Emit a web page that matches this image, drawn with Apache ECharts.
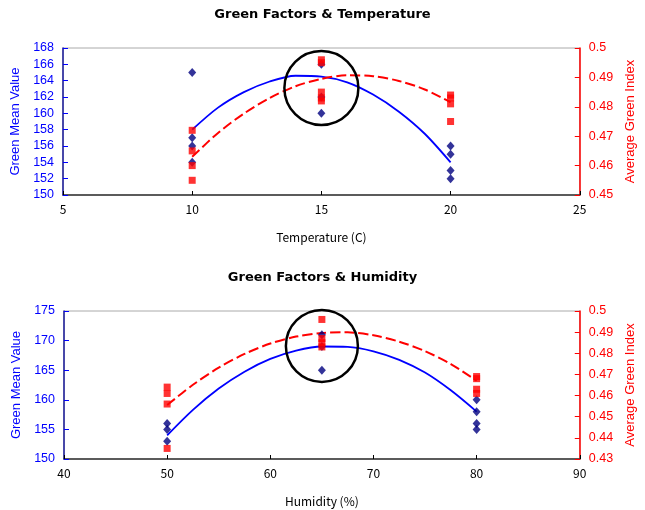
<!DOCTYPE html>
<html><head><meta charset="utf-8">
<script src="https://cdn.jsdelivr.net/npm/echarts@6/dist/echarts.min.js"></script>
<style>html,body{margin:0;padding:0;background:#fff}#c{width:645px;height:510px}</style>
</head><body><div id="c"></div>
<script>
// ---- Temperature chart data ----
const tempMeanX = [10, 10, 10, 10, 15, 15, 15, 20, 20, 20, 20];
const tempMeanY = [165, 157, 156, 154, 166, 162, 160, 156, 155, 153, 152];
const tempIndexX = [10, 10, 10, 10, 15, 15, 15, 15, 15, 20, 20, 20, 20];
const tempIndexY = [0.472, 0.465, 0.460, 0.455, 0.496, 0.495, 0.485, 0.483, 0.482, 0.484, 0.483, 0.481, 0.475];
const tempTrendX = [10, 11, 12, 13, 14, 15, 16, 17, 18, 19, 20];
const tempMeanTrend = [158, 160.7, 162.6, 163.9, 164.6, 164.5, 163.8, 162.3, 160.2, 157.5, 154];
const tempIndexTrend = [0.463, 0.4711, 0.4777, 0.4830, 0.4870, 0.4895, 0.4907, 0.4904, 0.4888, 0.4859, 0.4815];
// ---- Humidity chart data ----
const humMeanX = [50, 50, 50, 65, 65, 65, 80, 80, 80, 80];
const humMeanY = [156, 155, 153, 171, 169, 165, 160, 158, 156, 155];
const humIndexX = [50, 50, 50, 50, 65, 65, 65, 65, 80, 80, 80, 80];
const humIndexY = [0.464, 0.461, 0.456, 0.435, 0.496, 0.487, 0.485, 0.483, 0.469, 0.468, 0.463, 0.461];
const humTrendX = [50, 52.5, 55, 57.5, 60, 62.5, 65, 67.5, 70, 72.5, 75, 77.5, 80];
const humMeanTrend = [154, 158.3, 161.9, 164.75, 166.9, 168.3, 169, 168.95, 168.2, 166.75, 164.6, 161.6, 158];
const humIndexTrend = [0.4555, 0.4651, 0.4732, 0.4797, 0.4846, 0.4879, 0.4896, 0.4899, 0.4885, 0.4855, 0.4810, 0.4749, 0.467];
// ---- axis ticks ----
const tempTicks = {min: 5, max: 25, interval: 5};
const humTicks = {min: 40, max: 90, interval: 10};
const tempMeanTicks = {min: 150, max: 168, interval: 2};
const tempIndexTicks = {min: 0.45, max: 0.5, interval: 0.01};
const humMeanTicks = {min: 150, max: 175, interval: 5};
const humIndexTicks = {min: 0.43, max: 0.5, interval: 0.01};

const zip = (xs, ys) => xs.map((x, i) => [x, ys[i]]);
const BLUE = '#0000ff', NAVY = '#000080', RED = '#ff0000';
const numFont = 'Liberation Sans';
const jpFont = 'Noto Sans CJK JP';

function xAx(t, name, gi) {
  return {
    type: 'value', gridIndex: gi, min: t.min, max: t.max, interval: t.interval,
    name: name, nameLocation: 'middle', nameGap: 36,
    nameTextStyle: {fontFamily: jpFont, fontSize: 12, color: '#000'},
    axisLine: {lineStyle: {color: '#333', width: 1.5}},
    axisTick: {inside: true, length: 4, lineStyle: {color: '#000'}},
    axisLabel: {fontFamily: jpFont, fontSize: 12, color: '#000', margin: 8},
    splitLine: {show: false}
  };
}
function yAx(t, name, gi, pos, color, lineColor) {
  return {
    type: 'value', gridIndex: gi, position: pos, min: t.min, max: t.max, interval: t.interval,
    name: name, nameLocation: 'middle', nameGap: pos === 'left' ? 36 : 36, nameRotate: 90,
    nameTextStyle: {fontFamily: numFont, fontSize: 13, color: color},
    axisLine: {show: true, onZero: false, lineStyle: {color: lineColor, width: 1.5}},
    axisTick: {show: true, inside: true, length: 5, lineStyle: {color: color}},
    axisLabel: {fontFamily: numFont, fontSize: 12.5, color: color, margin: 9,
      formatter: v => String(parseFloat(v.toFixed(3)))},
    splitLine: {show: false}
  };
}

const chart = echarts.init(document.getElementById('c'), null, {renderer: 'canvas'});
const option = {
  animation: false,
  backgroundColor: '#fff',
  title: [
    {text: 'Green Factors & Temperature', left: 'center', top: 3,
     textStyle: {fontFamily: 'DejaVu Sans', fontWeight: 'bold', fontSize: 13, color: '#000'}},
    {text: 'Green Factors & Humidity', left: 'center', top: 266,
     textStyle: {fontFamily: 'DejaVu Sans', fontWeight: 'bold', fontSize: 13, color: '#000'}}
  ],
  grid: [
    {left: 63, right: 64, top: 48, height: 147, show: true, borderColor: '#aaa', borderWidth: 1},
    {left: 64, right: 65, top: 311, height: 148, show: true, borderColor: '#aaa', borderWidth: 1}
  ],
  xAxis: [xAx(tempTicks, 'Temperature (C)', 0), xAx(humTicks, 'Humidity (%)', 1)],
  yAxis: [
    yAx(tempMeanTicks, 'Green Mean Value', 0, 'left', BLUE, '#1a1a9a'),
    yAx(tempIndexTicks, 'Average Green Index', 0, 'right', RED, RED),
    yAx(humMeanTicks, 'Green Mean Value', 1, 'left', BLUE, '#1a1a9a'),
    yAx(humIndexTicks, 'Average Green Index', 1, 'right', RED, RED)
  ],
  series: [
    {type: 'line', xAxisIndex: 0, yAxisIndex: 0, data: zip(tempTrendX, tempMeanTrend), smooth: 0.3,
     showSymbol: false, lineStyle: {color: BLUE, width: 1.8}, z: 2},
    {type: 'line', xAxisIndex: 0, yAxisIndex: 1, data: zip(tempTrendX, tempIndexTrend), smooth: 0.3,
     showSymbol: false, lineStyle: {color: RED, width: 2, type: [10, 4]}, z: 2},
    {type: 'scatter', xAxisIndex: 0, yAxisIndex: 0, data: zip(tempMeanX, tempMeanY), symbol: 'diamond',
     symbolSize: [8, 9], itemStyle: {color: NAVY}, z: 3},
    {type: 'scatter', xAxisIndex: 0, yAxisIndex: 1, data: zip(tempIndexX, tempIndexY), symbol: 'rect',
     symbolSize: 7, itemStyle: {color: RED}, z: 4},
    {type: 'line', xAxisIndex: 1, yAxisIndex: 2, data: zip(humTrendX, humMeanTrend), smooth: 0.3,
     showSymbol: false, lineStyle: {color: BLUE, width: 1.8}, z: 2},
    {type: 'line', xAxisIndex: 1, yAxisIndex: 3, data: zip(humTrendX, humIndexTrend), smooth: 0.3,
     showSymbol: false, lineStyle: {color: RED, width: 2, type: [10, 4]}, z: 2},
    {type: 'scatter', xAxisIndex: 1, yAxisIndex: 2, data: zip(humMeanX, humMeanY), symbol: 'diamond',
     symbolSize: [8, 9], itemStyle: {color: NAVY}, z: 3},
    {type: 'scatter', xAxisIndex: 1, yAxisIndex: 3, data: zip(humIndexX, humIndexY), symbol: 'rect',
     symbolSize: 7, itemStyle: {color: RED}, z: 4}
  ]
};
chart.setOption(option);
// highlight circles, placed through the axes
const c1 = chart.convertToPixel({xAxisIndex: 0, yAxisIndex: 0}, [15, 163.1]);
const c2 = chart.convertToPixel({xAxisIndex: 1, yAxisIndex: 2}, [65, 169.1]);
chart.setOption({graphic: [
  {type: 'circle', shape: {cx: c1[0], cy: c1[1], r: 37}, style: {fill: null, stroke: '#000', lineWidth: 2.5}, z: 100},
  {type: 'circle', shape: {cx: c2[0], cy: c2[1], r: 36}, style: {fill: null, stroke: '#000', lineWidth: 2.5}, z: 100}
]});
</script></body></html>
